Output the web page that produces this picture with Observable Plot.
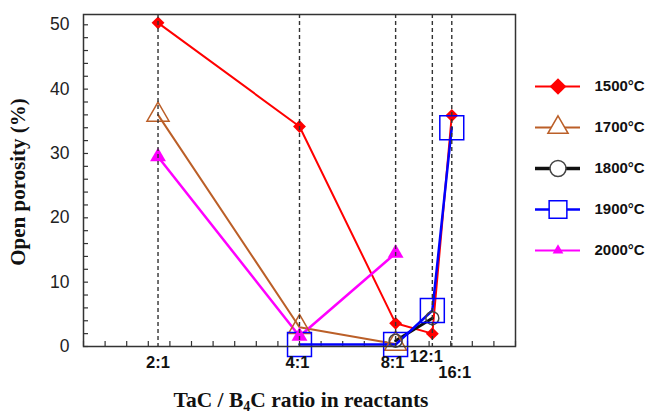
<!DOCTYPE html>
<html><head><meta charset="utf-8">
<script src="https://cdn.jsdelivr.net/npm/d3@7"></script>
<script src="https://cdn.jsdelivr.net/npm/@observablehq/plot@0.6"></script>
<style>
body{margin:0;background:#fff;}
#wrap{position:relative;width:646px;height:414px;overflow:hidden;}
#legend{position:absolute;left:530px;top:66px;width:116px;}
</style></head><body>
<div id="wrap"><div id="chart"></div><div id="legend"></div></div>
<script>
// ---- data ----
const ratios = ["2:1", "4:1", "8:1", "12:1", "16:1"];
const ratioX = [0.669, 0.800, 0.889, 0.923, 0.941];   // position on the (hidden) linear x axis
const temps = ["1500°C", "1700°C", "1800°C", "1900°C", "2000°C"];
const p1500 = [50.3, 34.2, 3.6, 2.0, 35.9];
const p1700 = [36.0, 3.0, 0.4, null, null];
const p1800 = [null, null, 0.9, 4.4, null];
const p1900 = [null, 0.3, 0.3, 5.6, 34.0];
const p2000 = [29.5, 1.6, 14.5, null, null];
const yTickValues = [0, 10, 20, 30, 40, 50];

// ---- layout / style ----
const W = 646, H = 414, mL = 83, mR = 131, mT = 14, mB = 68;
const plotW = W - mL - mR, plotH = H - mT - mB;
const sans = "'Liberation Sans', Arial, sans-serif";
const serif = "'Liberation Serif', 'Times New Roman', serif";

const series = [
  {name: temps[0], vals: p1500, color: "#ff0000", symbol: "diamond2", fill: "#ff0000", r: 5.8, sw: 2, lr: 7.5, lsw: 2},
  {name: temps[1], vals: p1700, color: "#bb5f28", symbol: "triangle", fill: "none", r: 8.2, sw: 2, lr: 7.5, lsw: 2},
  {name: temps[2], vals: p1800, color: "#111111", symbol: "circle", fill: "none", r: 6.5, sw: 3, lr: 8, lsw: 3.5, mstroke: "#444"},
  {name: temps[3], vals: p1900, color: "#0000ff", symbol: "square", fill: "none", r: 13.5, sw: 2.5, lr: 10, lsw: 2.5},
  {name: temps[4], vals: p2000, color: "#ff00ff", symbol: "triangle", fill: "#ff00ff", r: 5.9, sw: 2.5, lr: 4, lsw: 2}
];
const labelOffset = {"2:1": [0, 0], "4:1": [-2, 0], "8:1": [-3, 0], "12:1": [-6, -6], "16:1": [3, 10]};

const rowsOf = s => ratios.map((r, i) => ({ratio: r, x: ratioX[i], y: s.vals[i]})).filter(d => d.y != null);

const marks = [];
// inward ticks
marks.push(Plot.tickY(d3.range(0, 51, 2), {y: d => d, insetRight: plotW - 5, stroke: "#333", strokeWidth: 1.2}));
marks.push(Plot.tickX(d3.range(0, 21).map(k => 0.6 + k * 0.02), {x: d => d, insetTop: plotH - 5, stroke: "#333", strokeWidth: 1.2}));
// series lines
for (const s of series) {
  marks.push(Plot.line(rowsOf(s), {x: "x", y: "y", stroke: s.color, strokeWidth: s.sw}));
}
for (const s of series) {
  marks.push(Plot.dot(rowsOf(s), {x: "x", y: "y", symbol: s.symbol, r: s.r,
    fill: s.fill, stroke: s.fill === "none" ? (s.mstroke || s.color) : "none", strokeWidth: 1.5}));
}
// dashed guide lines at each ratio
marks.push(Plot.ruleX(ratioX, {x: d => d, stroke: "#333", strokeWidth: 1.4, strokeDasharray: "4,3"}));
// frame
marks.push(Plot.frame({stroke: "#333", strokeWidth: 1.5}));
// y tick labels
marks.push(Plot.text(yTickValues, {y: d => d, text: d => String(d), frameAnchor: "left", textAnchor: "end",
  dx: -14, fontSize: 17.5, fontFamily: sans, fill: "#222"}));
// x tick labels
ratios.forEach((r, i) => {
  const [ox, oy] = labelOffset[r] || [0, 0];
  marks.push(Plot.text([{x: ratioX[i], label: r}], {x: "x", text: "label", frameAnchor: "bottom",
    dx: ox, dy: 21 + oy, fontSize: 16.5, fontWeight: "bold", fontFamily: sans, fill: "#111"}));
});

const chart = Plot.plot({
  width: W, height: H, marginLeft: mL, marginRight: mR, marginTop: mT, marginBottom: mB,
  x: {type: "linear", domain: [0.6, 1.0], axis: null},
  y: {domain: [0, 51.6], axis: null},
  style: {fontFamily: sans, background: "white", overflow: "visible"},
  marks
});
document.getElementById("chart").appendChild(chart);

// axis titles (with subscript)
const svg = d3.select(chart);
const xt = svg.append("text").attr("x", 301).attr("y", 407).attr("text-anchor", "middle")
  .style("font-family", serif).style("font-weight", "bold").style("font-size", "21.5px").attr("fill", "#111");
xt.append("tspan").text("TaC / B");
xt.append("tspan").attr("dy", 4).style("font-size", "14px").text("4");
xt.append("tspan").attr("dy", -4).text("C ratio in reactants");
svg.append("text").attr("transform", "translate(25,182) rotate(-90)").attr("text-anchor", "middle")
  .style("font-family", serif).style("font-weight", "bold").style("font-size", "21px").attr("fill", "#111")
  .text("Open porosity (%)");

// legend
const lmarks = [];
for (const s of series) {
  lmarks.push(Plot.ruleY([s.name], {y: d => d, stroke: s.color, strokeWidth: s.lsw}));
  lmarks.push(Plot.dot([s.name], {y: d => d, frameAnchor: "middle", symbol: s.symbol, r: s.lr,
    fill: s.fill === "none" ? "white" : s.fill, stroke: s.fill === "none" ? (s.mstroke || s.color) : "none", strokeWidth: 1.5}));
}
lmarks.push(Plot.text(temps, {y: d => d, text: d => d, frameAnchor: "right", textAnchor: "start", dx: 14,
  fontSize: 15, fontWeight: "bold", fontFamily: sans, fill: "#111"}));
const legend = Plot.plot({
  width: 116, height: 204, marginLeft: 5, marginRight: 66, marginTop: 20, marginBottom: 20,
  x: {domain: [0, 1], axis: null},
  y: {type: "point", domain: temps, padding: 0, axis: null},
  style: {background: "transparent", overflow: "visible"},
  marks: lmarks
});
document.getElementById("legend").appendChild(legend);
</script>
</body></html>
